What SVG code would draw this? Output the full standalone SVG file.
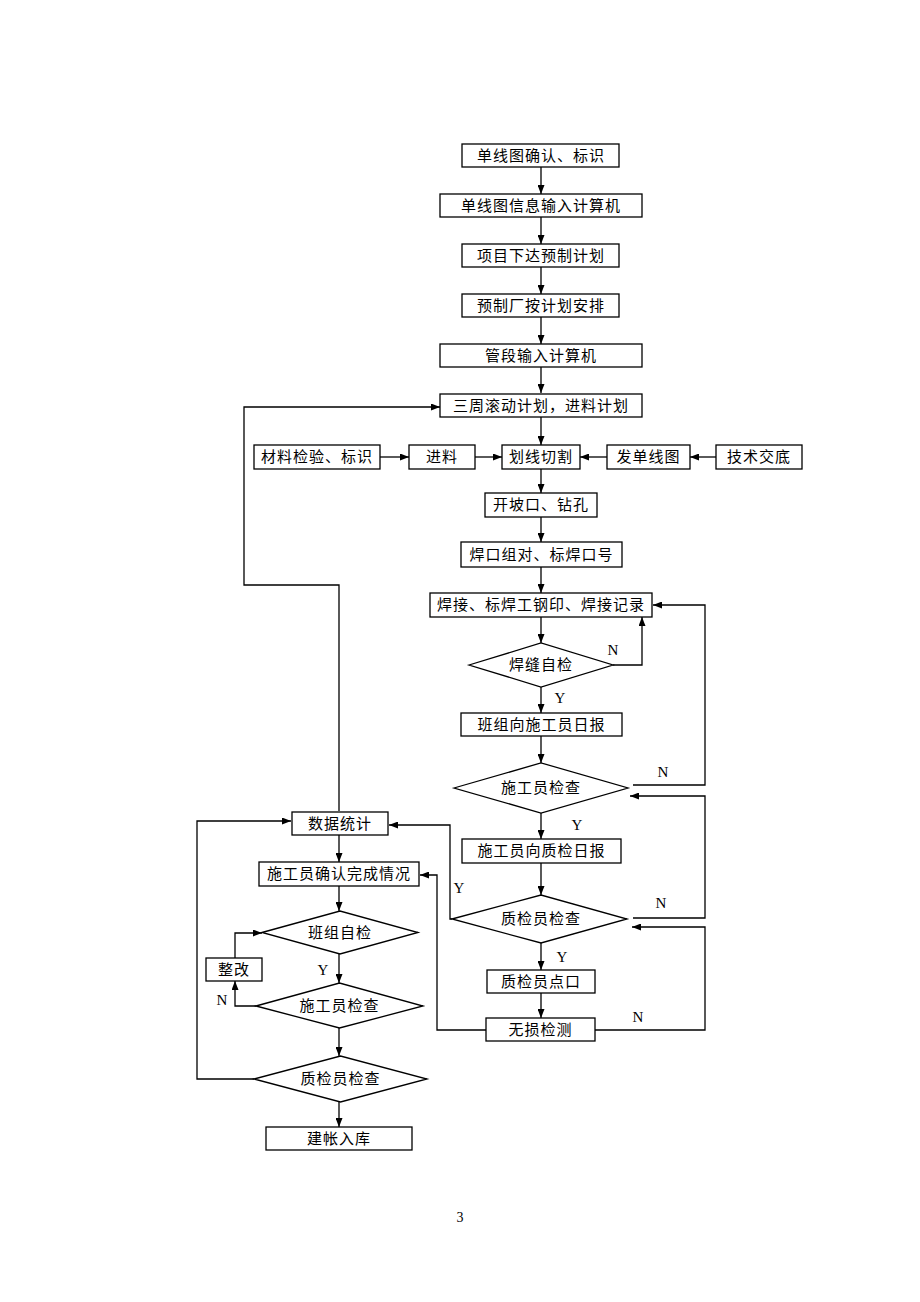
<svg xmlns="http://www.w3.org/2000/svg" width="920" height="1302" viewBox="0 0 920 1302">
<style>
.b{fill:#fff;stroke:#000;stroke-width:1.3}
.t{font-family:"Liberation Serif","Noto Sans CJK SC",serif;font-size:15px;letter-spacing:1px;text-anchor:middle;dominant-baseline:central;fill:#000}
.l{font-family:"Liberation Serif",serif;font-size:15px;text-anchor:middle;dominant-baseline:central;fill:#000}
.c{fill:none;stroke:#000;stroke-width:1.3}
</style>
<defs>
<marker id="a" markerUnits="userSpaceOnUse" markerWidth="9" markerHeight="7" refX="9" refY="3.5" orient="auto">
<path d="M0,0 L9,3.5 L0,7 z" fill="#000"/>
</marker>
</defs>
<rect width="920" height="1302" fill="#fff"/>
<g id="connectors">
<path class="c" marker-end="url(#a)" d="M541,167 V194"/>
<path class="c" marker-end="url(#a)" d="M541,217 V244"/>
<path class="c" marker-end="url(#a)" d="M541,267 V294"/>
<path class="c" marker-end="url(#a)" d="M541,317 V344"/>
<path class="c" marker-end="url(#a)" d="M541,367 V393"/>
<path class="c" marker-end="url(#a)" d="M541,417 V445"/>
<path class="c" marker-end="url(#a)" d="M380,457 H409"/>
<path class="c" marker-end="url(#a)" d="M475,457 H502"/>
<path class="c" marker-end="url(#a)" d="M716,457 H690"/>
<path class="c" marker-end="url(#a)" d="M607,457 H580"/>
<path class="c" marker-end="url(#a)" d="M541,469 V493"/>
<path class="c" marker-end="url(#a)" d="M541,517 V542"/>
<path class="c" marker-end="url(#a)" d="M541,567 V593"/>
<path class="c" marker-end="url(#a)" d="M541,617 V643"/>
<path class="c" marker-end="url(#a)" d="M613,665 H642 V617"/>
<path class="c" marker-end="url(#a)" d="M541,687 V713"/>
<path class="c" marker-end="url(#a)" d="M541,736 V763"/>
<path class="c" marker-end="url(#a)" d="M633,785 H705 V605 H653"/>
<path class="c" marker-end="url(#a)" d="M541,813 V839"/>
<path class="c" marker-end="url(#a)" d="M541,863 V895"/>
<path class="c" marker-end="url(#a)" d="M633,918 H705 V796 H630"/>
<path class="c" marker-end="url(#a)" d="M452,919 H450 V825 H389"/>
<path class="c" marker-end="url(#a)" d="M541,943 V970"/>
<path class="c" marker-end="url(#a)" d="M541,993 V1018"/>
<path class="c" marker-end="url(#a)" d="M595,1030 H705 V927 H632"/>
<path class="c" marker-end="url(#a)" d="M486,1030 H437 V875 H420"/>
<path class="c" marker-end="url(#a)" d="M339,811 V585 H244 V407 H440"/>
<path class="c" marker-end="url(#a)" d="M339,835 V862"/>
<path class="c" marker-end="url(#a)" d="M339,886 V911"/>
<path class="c" marker-end="url(#a)" d="M339,954 V983"/>
<path class="c" marker-end="url(#a)" d="M256,1006 H235 V981"/>
<path class="c" marker-end="url(#a)" d="M235,958 V933 H262"/>
<path class="c" marker-end="url(#a)" d="M339,1028 V1056"/>
<path class="c" marker-end="url(#a)" d="M254,1079 H197 V821 H291"/>
<path class="c" marker-end="url(#a)" d="M339,1102 V1127"/>
<text class="l" x="613" y="650">N</text>
<text class="l" x="560" y="698">Y</text>
<text class="l" x="663" y="772">N</text>
<text class="l" x="577" y="825">Y</text>
<text class="l" x="459" y="888">Y</text>
<text class="l" x="661" y="903">N</text>
<text class="l" x="562" y="957">Y</text>
<text class="l" x="638" y="1017">N</text>
<text class="l" x="323" y="970">Y</text>
<text class="l" x="222" y="1000">N</text>
</g>
<g id="n1"><rect class="b" x="462" y="144" width="157" height="23"/><text class="t" x="541" y="156">单线图确认、标识</text></g>
<g id="n2"><rect class="b" x="440" y="194" width="202" height="23"/><text class="t" x="541" y="206">单线图信息输入计算机</text></g>
<g id="n3"><rect class="b" x="462" y="244" width="157" height="23"/><text class="t" x="541" y="256">项目下达预制计划</text></g>
<g id="n4"><rect class="b" x="462" y="294" width="157" height="23"/><text class="t" x="541" y="306">预制厂按计划安排</text></g>
<g id="n5"><rect class="b" x="440" y="344" width="202" height="23"/><text class="t" x="541" y="356">管段输入计算机</text></g>
<g id="n6"><rect class="b" x="440" y="394" width="202" height="23"/><text class="t" x="541" y="406">三周滚动计划，进料计划</text></g>
<g id="n7"><rect class="b" x="254" y="445" width="126" height="24"/><text class="t" x="317" y="457">材料检验、标识</text></g>
<g id="n8"><rect class="b" x="409" y="445" width="66" height="24"/><text class="t" x="442" y="457">进料</text></g>
<g id="n9"><rect class="b" x="502" y="445" width="78" height="24"/><text class="t" x="541" y="457">划线切割</text></g>
<g id="n10"><rect class="b" x="607" y="445" width="83" height="24"/><text class="t" x="648.5" y="457">发单线图</text></g>
<g id="n11"><rect class="b" x="716" y="445" width="86" height="24"/><text class="t" x="759" y="457">技术交底</text></g>
<g id="n12"><rect class="b" x="485" y="493" width="112" height="24"/><text class="t" x="541" y="505">开坡口、钻孔</text></g>
<g id="n13"><rect class="b" x="461" y="542" width="161" height="25"/><text class="t" x="541.5" y="554.5">焊口组对、标焊口号</text></g>
<g id="n14"><rect class="b" x="430" y="593" width="222" height="24"/><text class="t" x="541" y="605">焊接、标焊工钢印、焊接记录</text></g>
<g id="n15"><polygon class="b" points="469,665 541,643 613,665 541,687"/><text class="t" x="541" y="665">焊缝自检</text></g>
<g id="n16"><rect class="b" x="461" y="713" width="161" height="23"/><text class="t" x="541.5" y="724.5">班组向施工员日报</text></g>
<g id="n17"><polygon class="b" points="454,788 541,763 628,788 541,813"/><text class="t" x="541" y="788">施工员检查</text></g>
<g id="n18"><rect class="b" x="462" y="839" width="159" height="24"/><text class="t" x="541.5" y="851">施工员向质检日报</text></g>
<g id="n19"><polygon class="b" points="452,919 541,895 627,919 541,943"/><text class="t" x="541" y="919">质检员检查</text></g>
<g id="n20"><rect class="b" x="487" y="970" width="108" height="23"/><text class="t" x="541" y="981.5">质检员点口</text></g>
<g id="n21"><rect class="b" x="486" y="1018" width="109" height="23"/><text class="t" x="540.5" y="1029.5">无损检测</text></g>
<g id="n22"><rect class="b" x="292" y="812" width="96" height="23"/><text class="t" x="340" y="823.5">数据统计</text></g>
<g id="n23"><rect class="b" x="259" y="862" width="160" height="24"/><text class="t" x="339" y="874">施工员确认完成情况</text></g>
<g id="n24"><polygon class="b" points="262,932.5 340,911 418,932.5 340,954"/><text class="t" x="340" y="932.5">班组自检</text></g>
<g id="n25"><rect class="b" x="206" y="958" width="56" height="23"/><text class="t" x="234" y="969.5">整改</text></g>
<g id="n26"><polygon class="b" points="256,1006 339.5,983 423,1006 339.5,1028"/><text class="t" x="339.5" y="1006">施工员检查</text></g>
<g id="n27"><polygon class="b" points="254,1079 340.5,1056 427,1079 340.5,1102"/><text class="t" x="340.5" y="1079">质检员检查</text></g>
<g id="n28"><rect class="b" x="266" y="1127" width="146" height="23"/><text class="t" x="339" y="1138.5">建帐入库</text></g>
<text class="l" x="460" y="1217" style="font-size:14px">3</text>
</svg>
